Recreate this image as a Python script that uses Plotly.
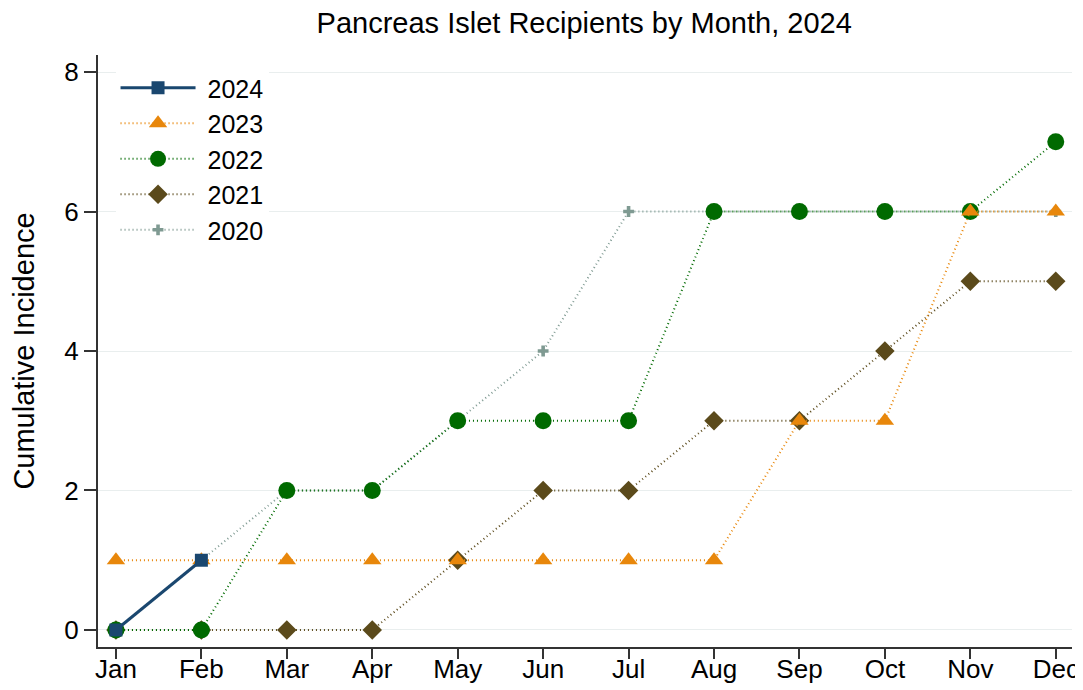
import plotly.graph_objects as go

months = ["Jan", "Feb", "Mar", "Apr", "May", "Jun", "Jul", "Aug", "Sep", "Oct", "Nov", "Dec"]
y2024 = [0, 1]
y2023 = [1, 1, 1, 1, 1, 1, 1, 1, 3, 3, 6, 6]
y2022 = [0, 0, 2, 2, 3, 3, 3, 6, 6, 6, 6, 7]
y2021 = [0, 0, 0, 0, 1, 2, 2, 3, 3, 4, 5, 5]
y2020 = [0, 1, 2, 2, 3, 4, 6, 6, 6, 6, 6, 6]
yticks = [0, 2, 4, 6, 8]

x_idx = list(range(len(months)))
FONT = "Liberation Sans, Arial, sans-serif"

series = [
    ("2020", y2020, "#7f9a92", "cross", 9, 2, "1px,3px"),
    ("2021", y2021, "#5b4a1b", "diamond", 15, 2, "1px,3px"),
    ("2022", y2022, "#006a00", "circle", 17, 2, "1px,3px"),
    ("2023", y2023, "#e8870b", "triangle-up", 16, 2, "1px,3px"),
    ("2024", y2024, "#1a476f", "square", 13, 3, "solid"),
]

fig = go.Figure()
for name, ys, color, sym, size, w, dash in series:
    fig.add_trace(go.Scatter(
        x=x_idx[:len(ys)], y=ys, name=" " + name, mode="lines+markers",
        line=dict(color=color, width=w, dash=dash),
        marker=dict(symbol=sym, size=size, color=color, line=dict(width=0)),
        legendgroup=name,
    ))

fig.update_layout(
    width=1073, height=678,
    margin=dict(l=90, r=9, t=47, b=39, autoexpand=False),
    paper_bgcolor="white", plot_bgcolor="white",
    font=dict(family=FONT, size=26, color="black"),
    title=dict(text="Pancreas Islet Recipients by Month, 2024", x=0.537, xanchor="center",
               xref="container", y=0.978, yanchor="middle", font=dict(size=29)),
    showlegend=True,
    legend=dict(x=0.018, y=0.983, xanchor="left", yanchor="top", bgcolor="white",
                traceorder="reversed", font=dict(size=25), itemwidth=75,
                tracegroupgap=6),
    xaxis=dict(range=[-0.21, 11.19], tickmode="array", tickvals=x_idx, ticktext=months,
               showgrid=False, zeroline=False, showline=True, linecolor="#333", linewidth=2,
               ticks="outside", ticklen=10, tickwidth=2, tickcolor="#333",
               ticklabelstandoff=-12,
               tickfont=dict(size=26), automargin=False),
    yaxis=dict(range=[-0.244, 8.244], tickmode="array", tickvals=yticks,
               showgrid=True, gridcolor="#e9eeee", gridwidth=1, zeroline=False,
               showline=True, linecolor="#333", linewidth=2,
               ticks="outside", ticklen=12, tickwidth=2, tickcolor="#333",
               title=dict(text="Cumulative Incidence", font=dict(size=29), standoff=23),
               tickfont=dict(size=26), automargin=False),
)

fig.write_html("out.html")
